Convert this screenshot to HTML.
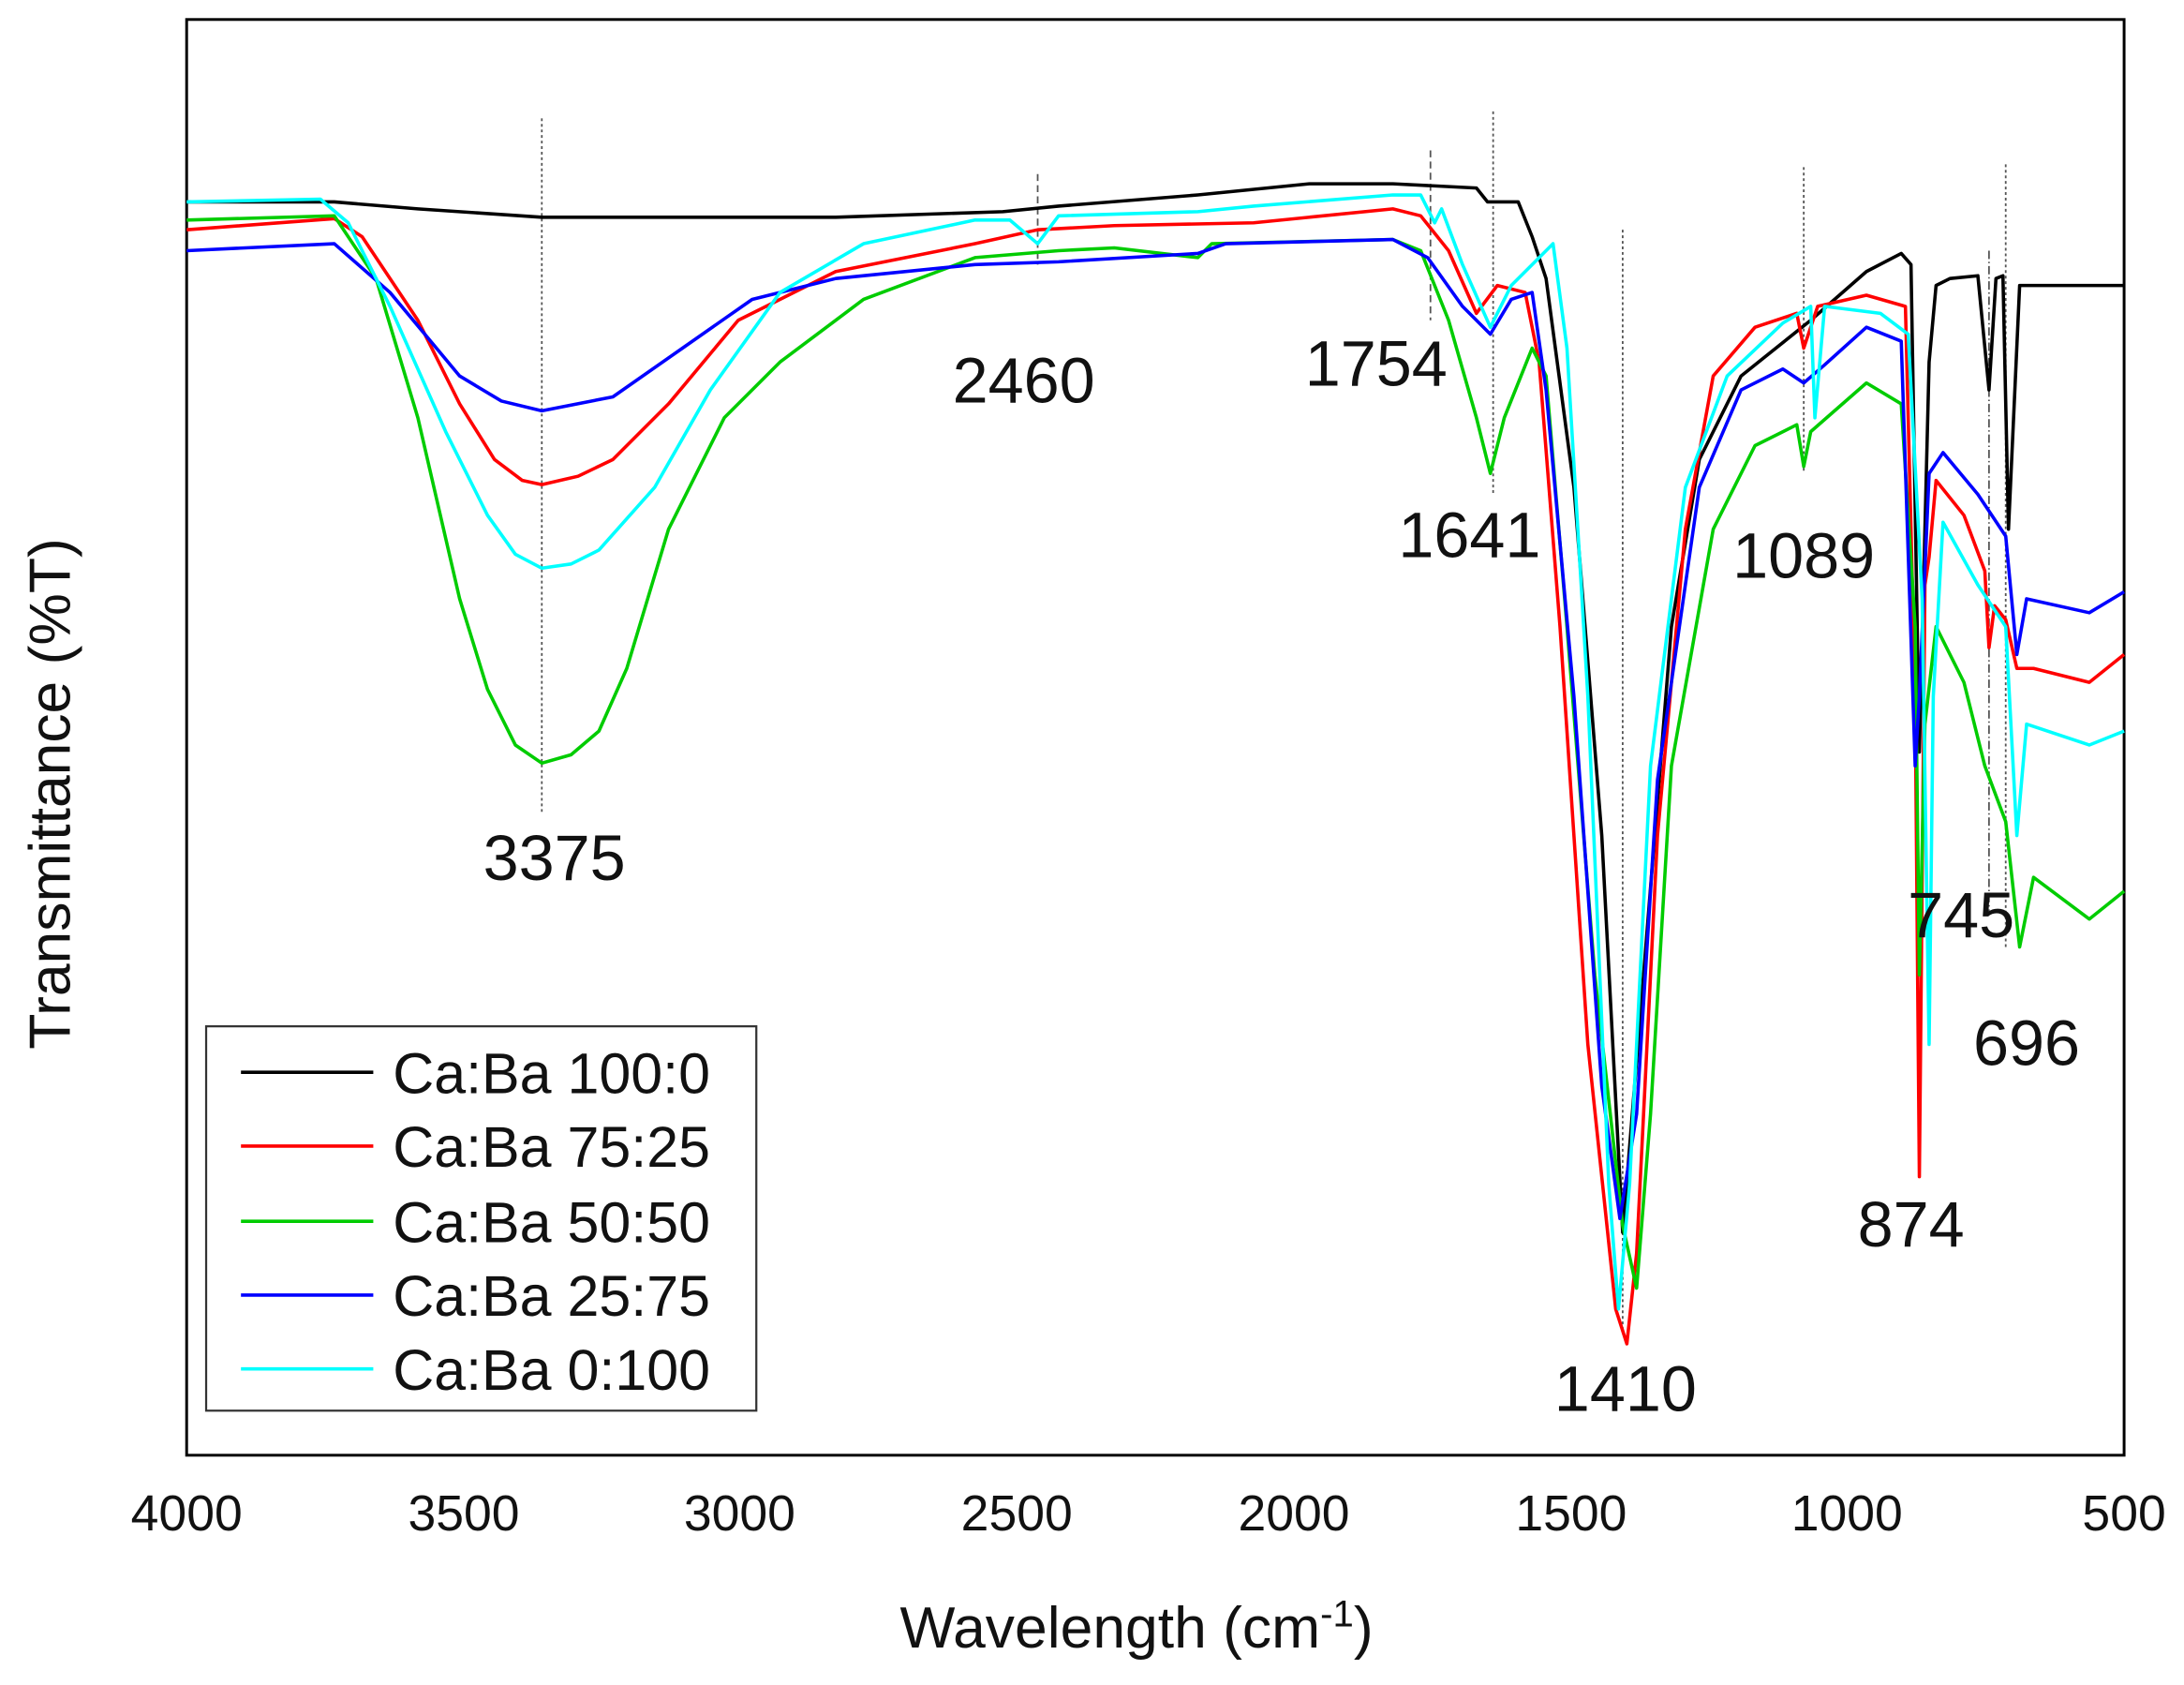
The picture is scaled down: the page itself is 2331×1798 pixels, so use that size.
<!DOCTYPE html>
<html><head><meta charset="utf-8"><style>html,body{margin:0;padding:0;background:#fff}svg{display:block}</style></head>
<body>
<svg width="2331" height="1798" viewBox="0 0 1568 1210" preserveAspectRatio="none" xmlns="http://www.w3.org/2000/svg" font-family="Liberation Sans, sans-serif">
<rect x="0" y="0" width="1568" height="1210" fill="#fff"/>
<rect x="134" y="14" width="1391" height="1031" fill="none" stroke="#000" stroke-width="2"/>
<g stroke="#555" stroke-width="1.2" fill="none">
<line x1="389" y1="85" x2="389" y2="585" stroke-dasharray="2,2"/>
<line x1="745" y1="125" x2="745" y2="190" stroke-dasharray="5,3"/>
<line x1="1027" y1="108" x2="1027" y2="230" stroke-dasharray="5,3"/>
<line x1="1072" y1="80" x2="1072" y2="355" stroke-dasharray="2,2"/>
<line x1="1165" y1="165" x2="1165" y2="955" stroke-dasharray="2,2"/>
<line x1="1295" y1="120" x2="1295" y2="340" stroke-dasharray="2,2"/>
<line x1="1428" y1="180" x2="1428" y2="655" stroke-dasharray="6,2,1,2"/>
<line x1="1440" y1="118" x2="1440" y2="680" stroke-dasharray="2,2"/>
</g>
<g fill="none" stroke-width="2.4" stroke-linejoin="round">
<polyline stroke="#000" points="134,145 240,145 300,150 389,156 500,156 600,156 720,152 760,148 860,140 940,132 1000,132 1060,135 1068,145 1090,145 1100,170 1110,200 1130,350 1150,600 1165,885 1180,700 1200,450 1220,330 1250,270 1300,230 1340,195 1365,182 1372,190 1378,540 1385,260 1390,205 1400,200 1420,198 1428,280 1433,200 1438,198 1442,380 1450,205 1525,205"/>
<polyline stroke="#f00" points="134,165 240,157 260,170 300,230 330,290 355,330 375,345 389,348 415,342 440,330 480,290 530,230 600,195 700,175 745,165 800,162 900,160 1000,150 1020,155 1040,180 1060,225 1075,205 1095,210 1105,260 1120,450 1140,750 1160,940 1168,965 1175,900 1190,600 1210,380 1230,270 1260,235 1290,225 1295,250 1305,220 1340,212 1368,220 1375,500 1378,845 1382,420 1385,400 1390,345 1410,370 1425,410 1428,465 1432,435 1440,445 1448,480 1460,480 1500,490 1525,470"/>
<polyline stroke="#0c0" points="134,158 240,155 270,200 300,300 330,430 350,495 370,535 389,548 410,542 430,525 450,480 480,380 520,300 560,260 620,215 700,185 760,180 800,178 860,185 870,175 1000,172 1020,180 1040,230 1060,300 1070,340 1080,300 1100,250 1110,270 1125,450 1145,700 1165,880 1175,925 1185,800 1200,550 1230,380 1260,320 1290,305 1295,335 1300,310 1340,275 1365,290 1375,450 1378,700 1382,520 1390,450 1410,490 1425,550 1440,590 1450,680 1460,630 1500,660 1525,640"/>
<polyline stroke="#00f" points="134,180 240,175 280,210 330,270 360,288 389,295 440,285 490,250 540,215 600,200 700,190 760,188 860,182 880,175 1000,172 1025,185 1050,220 1070,240 1085,215 1100,210 1110,280 1130,500 1150,780 1163,875 1175,800 1190,560 1220,350 1250,280 1280,265 1295,275 1310,262 1340,235 1365,245 1375,550 1378,500 1385,340 1395,325 1420,355 1440,385 1448,470 1455,430 1500,440 1525,425"/>
<polyline stroke="#0ff" points="134,145 230,143 250,160 280,220 320,310 350,370 370,398 389,408 410,405 430,395 470,350 510,280 560,210 620,175 700,158 725,158 745,175 760,155 860,152 900,148 1000,140 1020,140 1030,160 1035,150 1050,190 1070,235 1085,205 1100,190 1115,175 1125,250 1140,500 1155,850 1162,940 1170,850 1185,550 1210,350 1240,270 1280,232 1300,220 1303,300 1310,220 1350,225 1370,240 1380,430 1385,750 1388,500 1395,375 1420,420 1440,450 1448,600 1455,520 1500,535 1525,525"/>
</g>
<g font-size="46" fill="#111" text-anchor="middle">
<text x="398" y="632">3375</text><text x="735" y="289">2460</text><text x="988" y="277">1754</text>
<text x="1055" y="400">1641</text><text x="1295" y="415">1089</text><text x="1167" y="1013">1410</text>
<text x="1372" y="895">874</text><text x="1408" y="673">745</text><text x="1455" y="765">696</text>
</g>
<rect x="148" y="737" width="395" height="276" fill="#fff" stroke="#333" stroke-width="1.5"/>
<g stroke-width="2.5">
<line x1="173" y1="770" x2="268" y2="770" stroke="#000"/>
<line x1="173" y1="823" x2="268" y2="823" stroke="#f00"/>
<line x1="173" y1="877" x2="268" y2="877" stroke="#0c0"/>
<line x1="173" y1="930" x2="268" y2="930" stroke="#00f"/>
<line x1="173" y1="983" x2="268" y2="983" stroke="#0ff"/>
</g>
<g font-size="41" fill="#111">
<text x="282" y="785">Ca:Ba 100:0</text><text x="282" y="838">Ca:Ba 75:25</text>
<text x="282" y="892">Ca:Ba 50:50</text><text x="282" y="945">Ca:Ba 25:75</text>
<text x="282" y="998">Ca:Ba 0:100</text>
</g>
<g font-size="36" fill="#111" text-anchor="middle">
<text x="134" y="1099">4000</text><text x="333" y="1099">3500</text><text x="531" y="1099">3000</text>
<text x="730" y="1099">2500</text><text x="929" y="1099">2000</text><text x="1128" y="1099">1500</text>
<text x="1326" y="1099">1000</text><text x="1525" y="1099">500</text>
</g>
<text x="816" y="1183" font-size="42" text-anchor="middle" fill="#111">Wavelength (cm<tspan font-size="27" dy="-15">-1</tspan><tspan dy="15">)</tspan></text>
<text transform="translate(50,570) rotate(-90)" font-size="42" text-anchor="middle" fill="#111">Transmittance (%T)</text>
</svg>
</body></html>
